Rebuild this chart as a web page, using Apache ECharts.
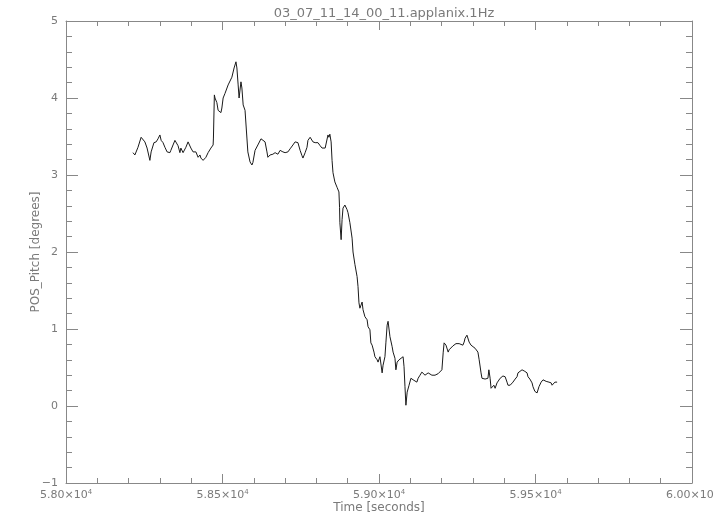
<!DOCTYPE html>
<html>
<head>
<meta charset="utf-8">
<script src="https://cdn.jsdelivr.net/npm/echarts@6/dist/echarts.min.js"></script>
<style>html,body{margin:0;padding:0;background:#fff}#c{width:713px;height:525px}</style>
</head>
<body>
<div id="c"></div>
<script>
const titleText = '03_07_11_14_00_11.applanix.1Hz';
const xName = 'Time [seconds]';
const yName = 'POS_Pitch [degrees]';
const xTicks = [58000, 58500, 59000, 59500, 60000];
const yTicks = [-1, 0, 1, 2, 3, 4, 5];

const time = [
58214,58220,58230,58240,58246,58252,58259,58268,58272,58281,58288,58294,58300,58304,58310,58316,58323,58332,58335,58342,
58348,58351,58358,58364,58367,58374,58380,58383,58390,58396,58399,58406,58412,58415,58422,58428,58431,58438,58444,58447,
58454,58460,58463,58470,58471,58474,58476,58482,58486,58492,58495,58498,58502,58508,58518,58530,58537,58543,58546,58550,
58553,58559,58562,58566,58572,58578,58581,58588,58594,58597,58604,58613,58623,58629,58636,58642,58645,58652,58658,58661,
58668,58677,58684,58690,58693,58700,58706,58709,58716,58722,58725,58732,58738,58741,58748,58754,58757,58764,58770,58773,
58780,58786,58789,58796,58802,58805,58812,58818,58821,58828,58834,58837,58840,58843,58847,58850,58853,58859,58866,58869,
58872,58874,58875,58879,58882,58885,58891,58898,58901,58907,58914,58917,58923,58930,58933,58936,58939,58946,58949,58955,
58962,58965,58971,58974,58978,58984,58987,58994,58997,59003,59010,59013,59019,59022,59026,59029,59035,59042,59045,59051,
59054,59058,59064,59070,59077,59080,59083,59086,59090,59096,59102,59109,59115,59121,59125,59131,59137,59141,59147,59153,
59157,59163,59169,59173,59179,59185,59189,59195,59201,59205,59208,59214,59221,59224,59230,59236,59240,59246,59252,59256,
59262,59268,59272,59275,59281,59284,59288,59294,59300,59307,59313,59316,59320,59326,59329,59332,59339,59345,59348,59351,
59355,59358,59361,59367,59371,59377,59380,59387,59393,59396,59403,59409,59412,59419,59425,59428,59435,59441,59444,59450,
59457,59460,59466,59473,59476,59482,59489,59492,59498,59505,59508,59511,59518,59524,59527,59534,59537,59543,59550,59553,
59559,59562,59569
];
const pitch = [
3.29,3.26,3.36,3.49,3.47,3.43,3.35,3.19,3.30,3.42,3.43,3.47,3.52,3.45,3.42,3.36,3.30,3.29,3.32,3.39,
3.45,3.44,3.38,3.29,3.35,3.29,3.30,3.36,3.43,3.42,3.35,3.30,3.29,3.30,3.23,3.26,3.22,3.19,3.21,3.23,
3.29,3.30,3.35,3.39,3.48,4.04,4.00,3.94,3.84,3.82,3.81,3.87,4.00,4.06,4.17,4.27,4.39,4.47,4.39,4.17,
4.00,4.21,4.13,3.91,3.84,3.48,3.30,3.17,3.13,3.16,3.32,3.39,3.47,3.45,3.43,3.30,3.23,3.26,3.25,3.27,
3.29,3.27,3.32,3.34,3.30,3.29,3.30,3.30,3.34,3.35,3.39,3.43,3.45,3.42,3.32,3.25,3.22,3.29,3.36,3.45,
3.49,3.48,3.43,3.42,3.42,3.42,3.38,3.35,3.34,3.35,3.34,3.52,3.49,3.53,3.43,3.19,3.03,2.91,2.84,2.83,
2.78,2.58,2.38,2.16,2.42,2.57,2.61,2.55,2.51,2.38,2.18,2.00,1.84,1.68,1.55,1.34,1.27,1.35,1.25,1.16,
1.12,1.03,0.99,0.82,0.79,0.70,0.64,0.60,0.57,0.64,0.43,0.53,0.64,0.82,1.05,1.10,0.90,0.77,0.70,0.62,
0.47,0.57,0.60,0.62,0.64,0.51,0.25,0.01,0.18,0.27,0.36,0.34,0.35,0.31,0.36,0.40,0.44,0.43,0.40,0.40,
0.43,0.43,0.40,0.39,0.40,0.42,0.42,0.43,0.47,0.69,0.82,0.79,0.70,0.73,0.75,0.78,0.79,0.81,0.79,0.81,
0.82,0.79,0.83,0.88,0.92,0.90,0.83,0.79,0.77,0.75,0.74,0.70,0.60,0.43,0.36,0.36,0.35,0.35,0.36,0.47,
0.36,0.23,0.21,0.27,0.23,0.30,0.31,0.36,0.38,0.39,0.38,0.31,0.27,0.27,0.29,0.31,0.35,0.38,0.43,0.44,
0.47,0.48,0.45,0.43,0.38,0.35,0.30,0.25,0.19,0.17,0.17,0.25,0.31,0.34,0.35,0.32,0.30,0.31,0.30,0.27,
0.29,0.31,0.31
];

const axisColor = '#888888';
const textColor = '#7a7a7a';
const fontFamily = 'DejaVu Sans';

const chart = echarts.init(document.getElementById('c'), null, {renderer: 'canvas'});

function xFmt(v) {
  const m = (v / 10000).toFixed(2);
  return m + '×10{sup|4}';
}
function yFmt(v) {
  return v < 0 ? '−' + Math.abs(v) : String(v);
}

function xAxisDef(pos) {
  return {
    type: 'value',
    position: pos,
    min: xTicks[0],
    max: xTicks[xTicks.length - 1],
    interval: xTicks[1] - xTicks[0],
    axisLine: {show: true, onZero: false, lineStyle: {color: axisColor, width: 1}},
    axisTick: {show: true, inside: true, length: 9, lineStyle: {color: axisColor, width: 1}},
    minorTick: {show: true, splitNumber: 5, length: 5, lineStyle: {color: axisColor, width: 1}},
    splitLine: {show: false},
    minorSplitLine: {show: false}
  };
}
function yAxisDef(pos) {
  return {
    type: 'value',
    position: pos,
    min: yTicks[0],
    max: yTicks[yTicks.length - 1],
    interval: yTicks[1] - yTicks[0],
    axisLine: {show: true, onZero: false, lineStyle: {color: axisColor, width: 1}},
    axisTick: {show: true, inside: true, length: 12, lineStyle: {color: axisColor}},
    minorTick: {show: true, splitNumber: 5, length: 6, lineStyle: {color: axisColor}},
    splitLine: {show: false},
    minorSplitLine: {show: false}
  };
}

const xBottom = Object.assign(xAxisDef('bottom'), {
  name: xName,
  nameLocation: 'middle',
  nameGap: 19,
  nameMoveOverlap: false,
  nameTextStyle: {color: textColor, fontSize: 12, fontFamily: fontFamily},
  axisLabel: {
    show: true, margin: 6, color: textColor, fontSize: 11, fontFamily: fontFamily,
    showMaxLabel: true, showMinLabel: true,
    formatter: xFmt,
    rich: {sup: {fontSize: 7, verticalAlign: 'top', padding: [0, 0, 6, 0], color: textColor, fontFamily: fontFamily}}
  }
});
const xTop = Object.assign(xAxisDef('top'), {axisLabel: {show: false}});
const yLeft = Object.assign(yAxisDef('left'), {
  name: yName,
  nameLocation: 'middle',
  nameGap: 24,
  nameRotate: 90,
  nameMoveOverlap: false,
  nameTextStyle: {color: textColor, fontSize: 12, fontFamily: fontFamily},
  axisLabel: {show: true, margin: 8, color: textColor, fontSize: 11, fontFamily: fontFamily, formatter: yFmt}
});
const yRight = Object.assign(yAxisDef('right'), {axisLabel: {show: false}});

chart.setOption({
  animation: false,
  backgroundColor: '#ffffff',
  title: {
    text: titleText,
    left: 379,
    top: 2,
    textAlign: 'center',
    textStyle: {color: textColor, fontSize: 13, fontWeight: 'normal', fontFamily: fontFamily}
  },
  grid: {left: 66, right: 21, top: 21, bottom: 42, containLabel: false, outerBoundsMode: 'none'},
  xAxis: [xBottom, xTop],
  yAxis: [yLeft, yRight],
  series: [{
    type: 'line',
    data: time.map((t, i) => [t, pitch[i]]),
    xAxisIndex: 0,
    yAxisIndex: 0,
    showSymbol: false,
    symbol: 'none',
    lineStyle: {color: '#1a1a1a', width: 1},
    smooth: false
  }]
});
</script>
</body>
</html>
